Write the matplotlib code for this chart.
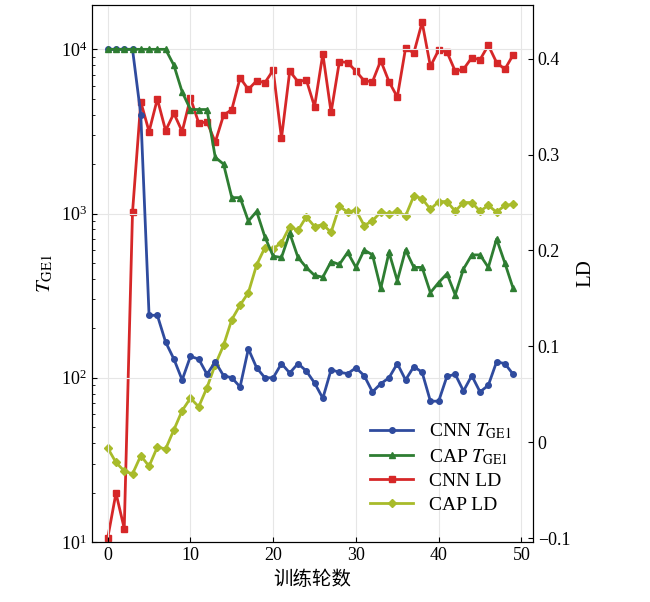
import numpy as np
import matplotlib
matplotlib.use('Agg')
import matplotlib.pyplot as plt
from matplotlib.lines import Line2D

plt.rcParams['font.family'] = ['Liberation Serif', 'Noto Sans CJK SC']
plt.rcParams['mathtext.fontset'] = 'stix'

epochs = np.arange(50)

cnn_t = [10000, 10000, 10000, 10000, 4000, 240, 240, 165, 130, 97,
         135, 130, 105, 125, 103, 100, 88, 150, 115, 100,
         100, 122, 107, 122, 110, 93, 75, 112, 108, 106,
         115, 103, 82, 92, 100, 122, 97, 117, 108, 72,
         72, 102, 105, 83, 103, 82, 90, 125, 122, 105]
cap_t = [10000, 10000, 10000, 10000, 10000, 10000, 10000, 10000, 8000, 5500,
         4300, 4300, 4300, 2200, 2000, 1250, 1250, 900, 1030, 720,
         550, 540, 760, 540, 470, 420, 410, 510, 490, 580,
         470, 600, 560, 350, 580, 390, 600, 470, 470, 330,
         380, 430, 320, 460, 560, 560, 470, 700, 500, 350]
cnn_ld = [-0.1, -0.053, -0.09, 0.24, 0.355, 0.324, 0.358, 0.325, 0.343, 0.324,
          0.359, 0.333, 0.334, 0.313, 0.341, 0.347, 0.38, 0.368, 0.377, 0.375,
          0.388, 0.317, 0.387, 0.376, 0.378, 0.35, 0.405, 0.344, 0.397, 0.396,
          0.387, 0.377, 0.376, 0.398, 0.376, 0.36, 0.411, 0.406, 0.438, 0.392,
          0.409, 0.407, 0.387, 0.389, 0.401, 0.399, 0.414, 0.396, 0.389, 0.404]
cap_ld = [-0.006, -0.021, -0.03, -0.033, -0.014, -0.025, -0.005, -0.007, 0.013, 0.033,
          0.046, 0.037, 0.057, 0.081, 0.101, 0.128, 0.143, 0.156, 0.185, 0.203,
          0.202, 0.208, 0.225, 0.221, 0.235, 0.225, 0.227, 0.219, 0.246, 0.24,
          0.242, 0.226, 0.231, 0.24, 0.238, 0.241, 0.236, 0.257, 0.254, 0.243,
          0.251, 0.251, 0.241, 0.25, 0.25, 0.241, 0.247, 0.24, 0.247, 0.248]

c_blue = '#2f4b9e'
c_green = '#2e7d32'
c_red = '#d62728'
c_yel = '#a8bb2a'

fig = plt.figure(figsize=(6.5, 6.02), dpi=100)
ax = fig.add_axes([0.1415, 0.0997, 0.6785, 0.892])
ax2 = ax.twinx()

ax.plot(epochs, cnn_t, color=c_blue, marker='o', ms=4, lw=2)
ax.plot(epochs, cap_t, color=c_green, marker='^', ms=4, lw=2)
ax2.plot(epochs, cnn_ld, color=c_red, marker='s', ms=5, lw=2)
ax2.plot(epochs, cap_ld, color=c_yel, marker='D', ms=4, lw=2)

ax.set_yscale('log')
ax.set_ylim(10, 10 ** 4.27)
ax.set_xlim(-1.9, 51.4)
ax2.set_ylim(-0.104, 0.456)
ax2.set_yticks([-0.1, 0, 0.1, 0.2, 0.3, 0.4])
ax2.set_yticklabels(['\u22120.1', '0', '0.1', '0.2', '0.3', '0.4'])
ax.set_xticks([0, 10, 20, 30, 40, 50])
ax.grid(True, color='#e6e6e6', lw=0.8)
ax.set_zorder(ax2.get_zorder() + 1)
ax.patch.set_visible(False)

for a in (ax, ax2):
    a.tick_params(direction='in', labelsize=13)
ax.tick_params(which='minor', direction='in')
ax.set_xlabel('训练轮数', fontsize=14, family=['Noto Sans CJK SC'])
ax.set_ylabel(r'$T_{\mathrm{GE1}}$', fontsize=15)
ax2.set_ylabel('LD', fontsize=15)

handles = [Line2D([], [], color=c_blue, marker='o', ms=4, lw=2),
           Line2D([], [], color=c_green, marker='^', ms=4, lw=2),
           Line2D([], [], color=c_red, marker='s', ms=5, lw=2),
           Line2D([], [], color=c_yel, marker='D', ms=4, lw=2)]
labels = [r'CNN $T_{\mathrm{GE1}}$', r'CAP $T_{\mathrm{GE1}}$', 'CNN LD', 'CAP LD']
ax.legend(handles, labels, loc='lower right', bbox_to_anchor=(0.99, 0.02),
          frameon=False, fontsize=14, handlelength=2.2, labelspacing=0.3)

fig.savefig('out.png', dpi=100)
